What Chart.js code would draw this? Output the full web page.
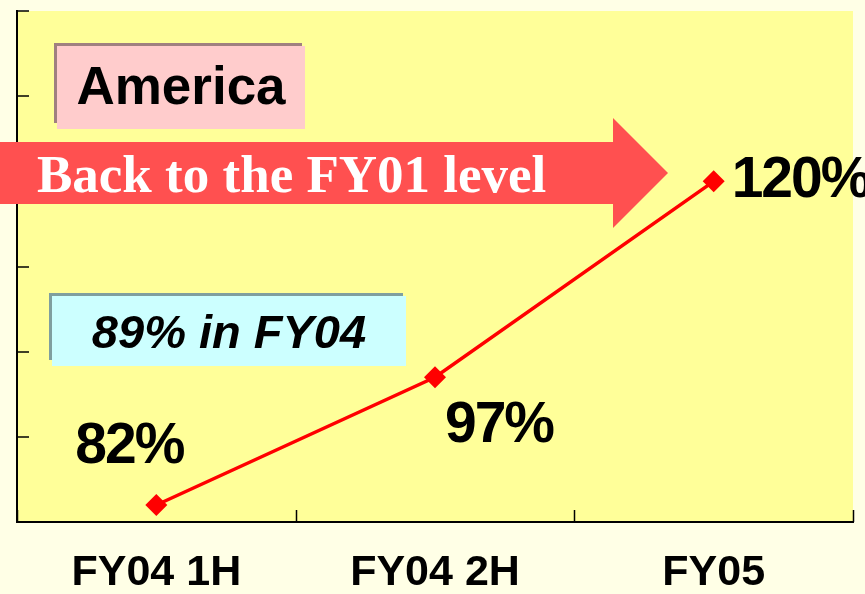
<!DOCTYPE html>
<html><head><meta charset="utf-8">
<script src="https://cdn.jsdelivr.net/npm/chart.js@4.4.1/dist/chart.umd.min.js"></script>
<style>html,body{margin:0;padding:0;background:#FFFFE6;overflow:hidden}</style>
</head><body>
<canvas id="c" width="865" height="594" style="display:block"></canvas>
<script>
const categories = ['FY04 1H', 'FY04 2H', 'FY05'];
const ratioValues = [82, 97, 120];
const yMin = 80, yMax = 140, yStep = 10;
const titleText = 'America';
const arrowText = 'Back to the FY01 level';
const noteText = '89% in FY04';

const SANS = '"Liberation Sans", Arial, sans-serif';
const SERIF = '"Liberation Serif", "Times New Roman", serif';
// label offsets relative to the point (style, not data)
const labelOffsets = [{dx: -27, dy: -58, align: 'center'}, {dx: 64, dy: 49, align: 'center'}, {dx: 18, dy: 0, align: 'left'}];

function box(ctx, x, y, w, h, dark, fill) {
  ctx.fillStyle = dark; ctx.fillRect(x, y, w, h);
  ctx.fillStyle = fill; ctx.fillRect(x + 3, y + 3, w, h + 3);
}

const decor = {
  id: 'decor',
  beforeDraw(chart) {
    const {ctx, chartArea: a} = chart;
    ctx.save();
    ctx.fillStyle = '#FFFFE6'; ctx.fillRect(0, 0, chart.width, chart.height);
    ctx.fillStyle = '#FFFF99'; ctx.fillRect(a.left, a.top, a.right - a.left, a.bottom - a.top);
    ctx.restore();
  },
  beforeDatasetsDraw(chart) {
    const {ctx, chartArea: a, scales: {x, y}} = chart;
    ctx.save();
    ctx.strokeStyle = '#000'; ctx.lineWidth = 1.5;
    y.ticks.forEach((t, i) => {
      const py = Math.round(y.getPixelForTick(i));
      ctx.beginPath(); ctx.moveTo(a.left, py); ctx.lineTo(a.left + 12, py); ctx.stroke();
    });
    for (let i = 0; i <= categories.length; i++) {
      let px;
      if (i === 0) px = a.left; else if (i === categories.length) px = a.right;
      else px = (x.getPixelForValue(i - 1) + x.getPixelForValue(i)) / 2;
      px = Math.round(px) + 0.5;
      ctx.beginPath(); ctx.moveTo(px, a.bottom); ctx.lineTo(px, a.bottom - 12); ctx.stroke();
    }
    // America box
    box(ctx, 54, 43, 248, 80, '#A08080', '#FFCCCC');
    ctx.fillStyle = '#000'; ctx.textAlign = 'center'; ctx.textBaseline = 'alphabetic';
    ctx.font = 'bold 53px ' + SANS;
    ctx.fillText(titleText, 181, 104);
    // 89% box
    box(ctx, 49, 293, 354, 67, '#7F9F9F', '#CCFFFF');
    ctx.fillStyle = '#000';
    ctx.font = 'italic bold 47px ' + SANS;
    ctx.fillText(noteText, 229, 348);
    // arrow
    ctx.fillStyle = '#FF5050';
    ctx.beginPath();
    ctx.moveTo(0, 142); ctx.lineTo(613, 142); ctx.lineTo(613, 118); ctx.lineTo(668, 173);
    ctx.lineTo(613, 228); ctx.lineTo(613, 204); ctx.lineTo(0, 204); ctx.closePath(); ctx.fill();
    ctx.fillStyle = '#FFFFFF'; ctx.textAlign = 'left';
    ctx.font = 'bold 53px ' + SERIF;
    ctx.fillText(arrowText, 37, 192);
    ctx.restore();
  },
  afterDatasetsDraw(chart) {
    const {ctx} = chart;
    const meta = chart.getDatasetMeta(0);
    ctx.save();
    ctx.fillStyle = '#000'; ctx.textBaseline = 'middle';
    ctx.font = 'bold 57px ' + SANS;
    ctx.letterSpacing = '-2px';
    meta.data.forEach((pt, i) => {
      const o = labelOffsets[i];
      ctx.textAlign = o.align;
      ctx.fillText(ratioValues[i] + '%', pt.x + o.dx, pt.y + o.dy);
    });
    ctx.restore();
  }
};

new Chart(document.getElementById('c'), {
  type: 'line',
  data: {
    labels: categories,
    datasets: [{
      data: ratioValues,
      borderColor: '#FF0000', backgroundColor: '#FF0000',
      borderWidth: 3.5, pointStyle: 'rectRot', pointRadius: 11,
      pointBorderWidth: 0, tension: 0, fill: false
    }]
  },
  options: {
    responsive: false, animation: false,
    layout: {padding: {left: 17, top: 7, right: 12, bottom: 0}},
    plugins: {legend: {display: false}, tooltip: {enabled: false}},
    scales: {
      x: {
        offset: true,
        afterFit(s) { s.height = 72; },
        grid: {display: true, drawOnChartArea: false, drawTicks: false},
        border: {display: true, color: '#000', width: 2},
        ticks: {color: '#000', font: {family: SANS, size: 43, weight: 'bold', lineHeight: 1.0}, padding: 30, maxRotation: 0, autoSkip: false}
      },
      y: {
        min: yMin, max: yMax,
        ticks: {display: false, stepSize: yStep},
        grid: {display: true, drawOnChartArea: false, drawTicks: false},
        border: {display: true, color: '#000', width: 2}
      }
    }
  },
  plugins: [decor]
});
</script>
</body></html>
